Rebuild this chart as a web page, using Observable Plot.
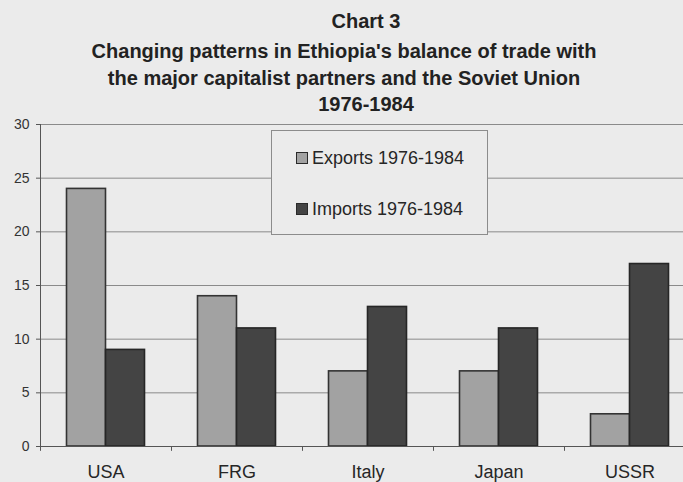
<!DOCTYPE html>
<html>
<head>
<meta charset="utf-8">
<script src="https://cdn.jsdelivr.net/npm/d3@7"></script>
<script src="https://cdn.jsdelivr.net/npm/@observablehq/plot@0.6"></script>
<style>
  html, body { margin: 0; padding: 0; background: #ebebeb; }
  body { width: 683px; height: 482px; position: relative; overflow: hidden; font-family: "Liberation Sans", Arial, sans-serif; color: #222; }
  #title { position: relative; height: 110px; }
  .tl { position: absolute; font-weight: bold; font-size: 20px; line-height: 20px; white-space: nowrap; transform: translateX(-50%); }
  #chart { position: absolute; left: 0; top: 110px; }
  #legend { position: absolute; left: 271px; top: 130px; width: 215px; height: 103px; border: 1px solid #8c8c8c; background: #ebebeb; }
  .li { position: absolute; left: 40px; font-size: 18px; line-height: 18px; white-space: nowrap; color: #262626; }
  .sw { position: absolute; left: 24px; width: 10px; height: 10px; border: 1px solid #2a2a2a; }
</style>
</head>
<body>
<div id="title">
  <div class="tl" style="left:366px; top:11px;">Chart 3</div>
  <div class="tl" style="left:344px; top:41px;">Changing patterns in Ethiopia's balance of trade with</div>
  <div class="tl" style="left:344px; top:68px;">the major capitalist partners and the Soviet Union</div>
  <div class="tl" style="left:366px; top:94px;">1976-1984</div>
</div>
<div id="chart"></div>
<div id="legend"></div>
<script>
const countries = ["USA", "FRG", "Italy", "Japan", "USSR"];
const exportsVals = [24, 14, 7, 7, 3];
const importsVals = [9, 11, 13, 11, 17];
const seriesNames = ["Exports 1976-1984", "Imports 1976-1984"];
const seriesColors = ["#a2a2a2", "#444444"];
const yTicks = [0, 5, 10, 15, 20, 25, 30];

const exportsData = countries.map((c, i) => ({country: c, value: exportsVals[i]}));
const importsData = countries.map((c, i) => ({country: c, value: importsVals[i]}));

const chart = Plot.plot({
  width: 683,
  height: 372,
  marginTop: 14,
  marginBottom: 36,
  marginLeft: 40,
  marginRight: 0,
  style: {background: "transparent", fontFamily: "Liberation Sans, Arial, sans-serif", color: "#333"},
  x: {type: "band", domain: countries, range: [40, 695], padding: 0},
  y: {domain: [0, 30]},
  marks: [
    Plot.gridY(yTicks.filter(d => d > 0), {stroke: "#8a8a8a", strokeOpacity: 1}),
    Plot.barY(exportsData, {x: "country", y: "value", fill: seriesColors[0], stroke: "#333333", strokeWidth: 1.6, insetLeft: 26.5, insetRight: 65.5}),
    Plot.barY(importsData, {x: "country", y: "value", fill: seriesColors[1], stroke: "#262626", strokeWidth: 1.6, insetLeft: 65.5, insetRight: 26.5}),
    Plot.ruleY([0], {stroke: "#555"}),
    Plot.frame({anchor: "left", stroke: "#555"}),
    Plot.ruleX(countries, {x: d => d, dx: -65.5, y1: 0, y2: -0.45, stroke: "#555"}),
    Plot.axisY({ticks: yTicks, tickSize: 4, tickPadding: 7, fontSize: 14, label: null, stroke: "#555", fill: "#333"}),
    Plot.axisX({tickSize: 0, tickPadding: 19, fontSize: 18, label: null, fill: "#262626"})
  ]
});
document.getElementById("chart").appendChild(chart);

const legend = document.getElementById("legend");
const tops = [18, 69];
seriesNames.forEach((name, i) => {
  const sw = document.createElement("div");
  sw.className = "sw";
  sw.style.top = (tops[i] + 3) + "px";
  sw.style.background = seriesColors[i];
  legend.appendChild(sw);
  const t = document.createElement("div");
  t.className = "li";
  t.style.top = tops[i] + "px";
  t.textContent = name;
  legend.appendChild(t);
});
</script>
</body>
</html>
